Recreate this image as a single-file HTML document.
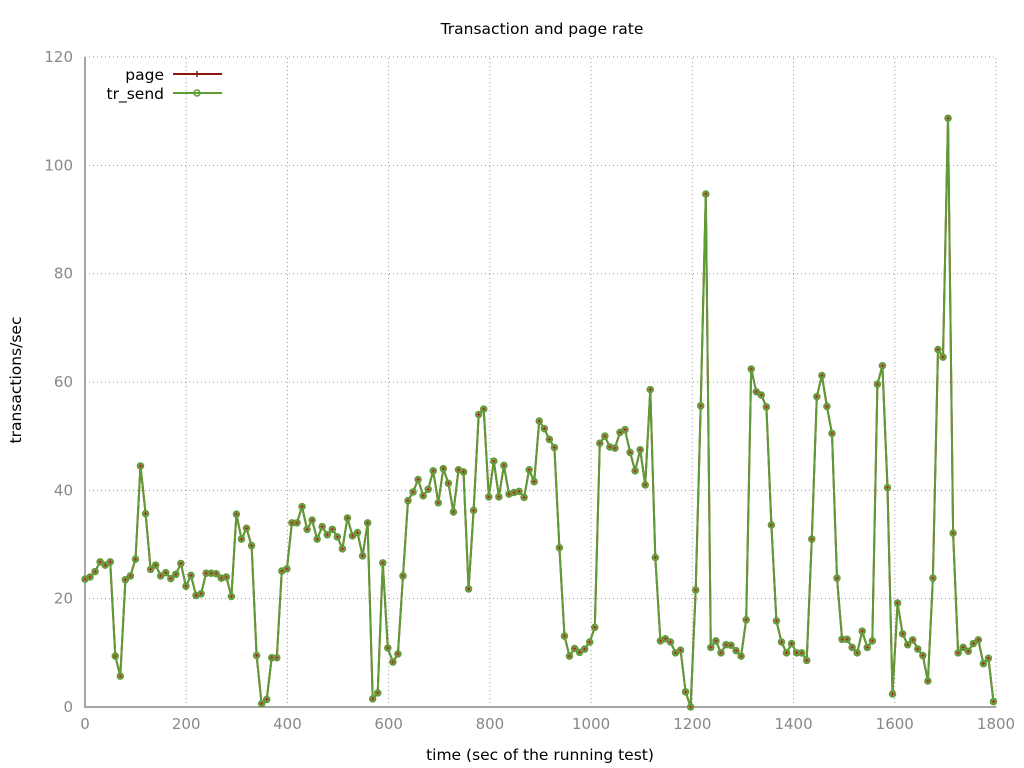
<!DOCTYPE html>
<html><head><meta charset="utf-8"><style>body{margin:0;background:#fff}svg{display:block;font-family:"DejaVu Sans",sans-serif}</style></head>
<body>
<svg id="chart" width="1024" height="768">
<text x="542" y="34" text-anchor="middle" font-size="15.5" fill="#000">Transaction and page rate</text>
<text x="21" y="380" text-anchor="middle" font-size="15.5" transform="rotate(-90 21 380)">transactions/sec</text>
<text x="540" y="760" text-anchor="middle" font-size="15.5">time (sec of the running test)</text>
<g id="grid"></g><g id="axes"></g><g id="series"></g>
<g>
<text x="164" y="80" text-anchor="end" font-size="15.5">page</text>
<line x1="173" y1="74" x2="222" y2="74" stroke="#8b1a0e" stroke-width="2"/>
<path d="M197,71v6M194,74h6" stroke="#8b1a0e" stroke-width="1.5"/>
<text x="164" y="99" text-anchor="end" font-size="15.5">tr_send</text>
<line x1="173" y1="93" x2="222" y2="93" stroke="#5e9c36" stroke-width="2"/>
<circle cx="197" cy="93" r="3" fill="none" stroke="#5e9c36" stroke-width="1.5"/>
</g>
</svg>
<script>
const values=[23.6,24,25,26.8,26.2,26.8,9.4,5.7,23.5,24.2,27.3,44.5,35.7,25.4,26.2,24.2,24.8,23.7,24.5,26.5,22.3,24.3,20.6,20.9,24.7,24.7,24.6,23.8,24,20.4,35.6,31,33,29.8,9.5,0.6,1.4,9.1,9.1,25.1,25.5,34,34,37,32.8,34.5,31,33.3,31.8,32.8,31.4,29.2,34.9,31.6,32.2,27.9,34,1.5,2.6,26.6,10.9,8.3,9.8,24.2,38.1,39.7,42,39,40.2,43.6,37.7,44,41.3,36,43.8,43.4,21.8,36.3,54,55,38.8,45.4,38.8,44.6,39.3,39.6,39.8,38.7,43.8,41.6,52.8,51.4,49.4,47.9,29.4,13.1,9.4,10.8,10.1,10.7,12,14.7,48.7,50,48,47.8,50.7,51.2,47,43.6,47.5,41,58.6,27.6,12.2,12.6,12,10,10.5,2.8,0,21.6,55.6,94.7,11,12.2,10,11.5,11.4,10.4,9.4,16.1,62.4,58.2,57.6,55.4,33.6,15.9,12,10,11.7,10,10,8.6,31,57.3,61.2,55.5,50.5,23.8,12.5,12.5,11,10,14,11,12.2,59.6,63,40.5,2.4,19.2,13.5,11.5,12.4,10.7,9.5,4.8,23.8,66,64.6,108.7,32.1,10,11,10.3,11.7,12.4,8,9,1];
const xTicks=[0,200,400,600,800,1000,1200,1400,1600,1800];
const yTicks=[0,20,40,60,80,100,120];
const tEnd=1795;
const X0=85,X1=996,Y0=707,Y1=57;
const sx=t=>X0+(X1-X0)*t/1800, sy=v=>Y0-(Y0-Y1)*v/120;
const NS="http://www.w3.org/2000/svg";
function mk(tag,attrs,parent){const e=document.createElementNS(NS,tag);for(const k in attrs)e.setAttribute(k,attrs[k]);document.getElementById(parent).appendChild(e);return e;}
yTicks.forEach(v=>{
 const g=mk('line',{x1:X0,x2:X1,y1:sy(v),y2:sy(v),stroke:'#999','stroke-dasharray':'1,3'},'grid');
 
 
 const t=mk('text',{x:X0-12,y:sy(v)+5,'text-anchor':'end','font-size':15,fill:'#888'},'axes');t.textContent=v;
 
 
});
xTicks.forEach(v=>{
 const g=mk('line',{x1:sx(v),x2:sx(v),y1:Y0,y2:Y1,stroke:'#999','stroke-dasharray':'1,3'},'grid');
 
 
 const t=mk('text',{x:sx(v),y:Y0+22,'text-anchor':'middle','font-size':15,fill:'#888'},'axes');t.textContent=v;
 
 
});
const ax=mk('path',{d:`M${X0},${Y1}V${Y0}H${X1}`,stroke:'#888',fill:'none','stroke-width':1.5},'axes');


const n=values.length;
const pts=values.map((v,i)=>[sx(i*tEnd/(n-1)),sy(v)]);
const d='M'+pts.map(p=>p[0].toFixed(1)+','+p[1].toFixed(1)).join('L');
const l1=mk('path',{d:d,stroke:'#8b1a0e',fill:'none','stroke-width':2},'series');


const l2=mk('path',{d:d,stroke:'#5e9c36',fill:'none','stroke-width':2,'stroke-linejoin':'round'},'series');


pts.forEach(p=>{
 const c=mk('circle',{cx:p[0],cy:p[1],r:3,fill:'#7f9a4e',stroke:'#5e9c36','stroke-width':1.5},'series');
 
 
 const m=mk('path',{d:`M${p[0]-1.5},${p[1]}h3M${p[0]},${p[1]-1.5}v3`,stroke:'#b22222','stroke-width':1},'series');
 
 
});
</script>
</body></html>
